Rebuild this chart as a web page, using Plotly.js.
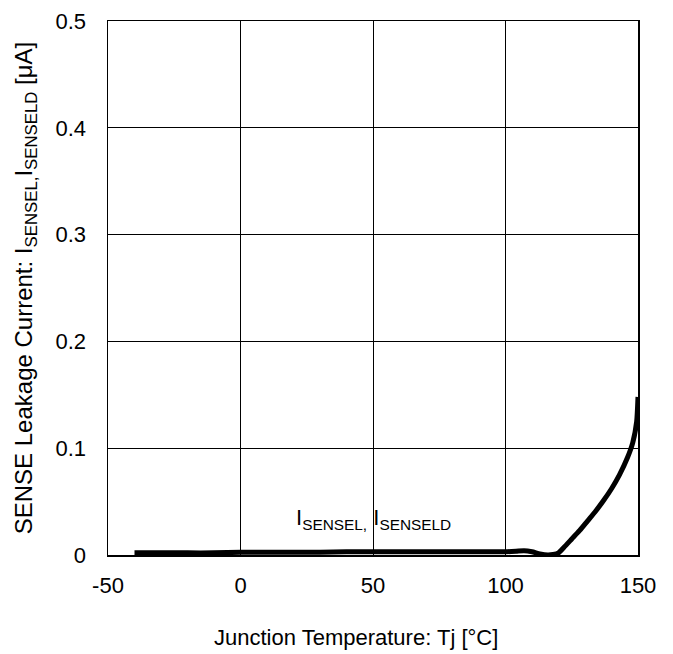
<!DOCTYPE html>
<html>
<head>
<meta charset="utf-8">
<script src="https://cdn.plot.ly/plotly-3.0.1.min.js"></script>
<style>html,body{margin:0;padding:0;background:#fff;}#chart{width:673px;height:654px;}</style>
</head>
<body>
<div id="chart"></div>
<script>
var tempC = [-40, -30, -20, -10, 0, 10, 20, 30, 40, 50, 60, 70, 80, 90, 100, 104, 107, 110, 113, 116, 118, 120, 122, 125, 128, 131, 134, 137, 140, 143, 146, 148, 149.5, 150];
var leakUA = [0.002, 0.002, 0.002, 0.002, 0.0025, 0.0025, 0.0025, 0.0025, 0.003, 0.003, 0.003, 0.003, 0.003, 0.003, 0.003, 0.0035, 0.004, 0.003, 0.001, 0.0, 0.0005, 0.002, 0.007, 0.015, 0.023, 0.032, 0.041, 0.051, 0.062, 0.075, 0.091, 0.105, 0.125, 0.148];
var xTicks = [-50, 0, 50, 100, 150];
var yTicks = [0, 0.1, 0.2, 0.3, 0.4, 0.5];
var labelText = 'I<sub>SENSEL,</sub> I<sub>SENSELD</sub>';
var xTitle = 'Junction Temperature: Tj [°C]';
var yTitle = 'SENSE Leakage Current: I<sub>SENSEL,</sub>I<sub>SENSELD</sub> [μA]';

var font = {family: '"Liberation Sans", Arial, sans-serif', color: '#000'};
function f(s) { return Object.assign({size: s}, font); }
Plotly.newPlot('chart', [{
  x: tempC, y: leakUA, type: 'scatter', mode: 'lines',
  line: {color: '#000', width: 5, shape: 'spline', smoothing: 0.6},
  hoverinfo: 'skip', showlegend: false
}], {
  width: 673, height: 654,
  margin: {l: 108, r: 35, t: 21, b: 99},
  paper_bgcolor: '#fff', plot_bgcolor: '#fff',
  font: f(22),
  xaxis: {
    range: [-50, 150], tickvals: xTicks, ticktext: xTicks.map(String),
    showgrid: true, gridcolor: '#000', gridwidth: 1,
    showline: true, linecolor: '#000', linewidth: 1.5, mirror: true,
    zeroline: false, ticks: 'outside', ticklen: 10, tickcolor: 'rgba(0,0,0,0)',
    tickfont: f(22)
  },
  yaxis: {
    range: [0, 0.5], tickvals: yTicks, ticktext: ['0', '0.1', '0.2', '0.3', '0.4', '0.5'],
    showgrid: true, gridcolor: '#000', gridwidth: 1,
    showline: true, linecolor: '#000', linewidth: 1.5, mirror: true,
    zeroline: false, ticks: 'outside', ticklen: 16, tickcolor: 'rgba(0,0,0,0)',
    tickfont: f(22),
    title: {text: yTitle, font: f(24), standoff: 16}
  },
  annotations: [{
    x: 50, y: 0.034, xref: 'x', yref: 'y', text: labelText, showarrow: false,
    font: f(22), bgcolor: 'rgba(0,0,0,0)'
  }, {
    x: 0.468, y: -0.154, xref: 'paper', yref: 'paper', text: xTitle, showarrow: false,
    xanchor: 'center', yanchor: 'middle', font: f(22)
  }]
}, {displayModeBar: false, staticPlot: true});
</script>
</body>
</html>
